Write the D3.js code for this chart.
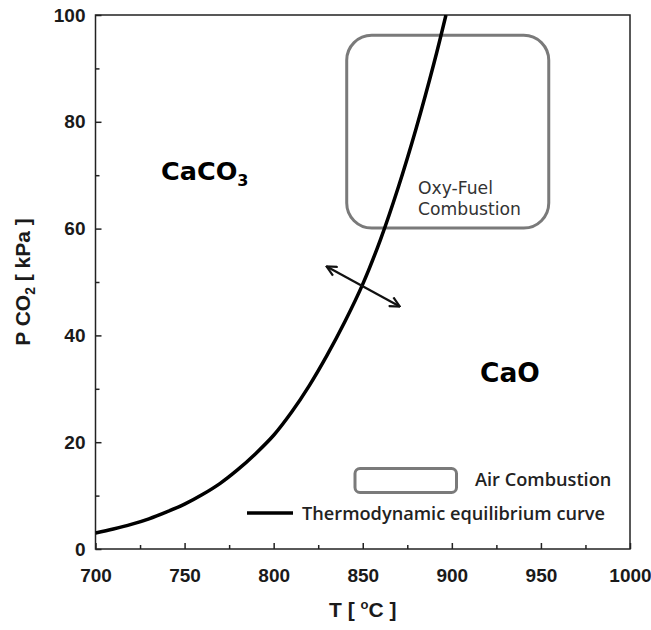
<!DOCTYPE html>
<html>
<head>
<meta charset="utf-8">
<script src="https://cdn.jsdelivr.net/npm/d3@7"></script>
<style>
  html, body { margin: 0; padding: 0; background: #fff; }
  svg { display: block; }
</style>
</head>
<body>
<svg id="chart" width="651" height="630"></svg>
<script>
// ---- data ----
const temperatures = [700, 710, 720, 730, 740, 750, 760, 770, 780, 790, 800, 810, 820, 830, 840, 850, 860, 870, 880, 890, 896.7];
const pressures    = [3.0, 3.75, 4.6, 5.65, 6.95, 8.4, 10.2, 12.3, 14.9, 17.9, 21.3, 25.6, 30.6, 36.3, 42.6, 49.6, 58.0, 67.8, 78.8, 91.0, 100];
const xMajorTicks = [700, 750, 800, 850, 900, 950, 1000];
const xMinorTicks = [725, 775, 825, 875, 925, 975];
const yMajorTicks = [0, 20, 40, 60, 80, 100];
const yMinorTicks = [10, 30, 50, 70, 90];
const regionLabels = ["CaCO", "CaO"];
const legendLabels = ["Air Combustion", "Thermodynamic equilibrium curve"];
const oxyLabel = ["Oxy-Fuel", "Combustion"];
// oxy-fuel region in data units: [T0, T1], [P0, P1]
const oxyT = [841, 954.4];
const oxyP = [60.1, 96.2];
// double arrow in data units
const arrowT = [829.7, 870.8];
const arrowP = [52.9, 45.4];

const svg = d3.select("#chart");
const x = d3.scaleLinear().domain([700, 1000]).range([95.5, 630]);
const y = d3.scaleLinear().domain([0, 100]).range([549, 15]);

const tickFont = "'Liberation Sans', Arial, sans-serif";
const annFont = "'Open Sans', 'Noto Sans', sans-serif";
const regFont = "'DejaVu Sans', Verdana, sans-serif";

const defs = svg.append("defs");
defs.append("clipPath").attr("id", "plotClip")
  .append("rect").attr("x", x(700)).attr("y", y(100))
  .attr("width", x(1000) - x(700)).attr("height", y(0) - y(100));

defs.append("marker").attr("id", "ah").attr("viewBox", "0 0 12 12")
  .attr("refX", 11).attr("refY", 6).attr("markerWidth", 12).attr("markerHeight", 12)
  .attr("markerUnits", "userSpaceOnUse").attr("orient", "auto-start-reverse")
  .append("path").attr("d", "M1,1 L11,6 L1,11").attr("fill", "none")
  .attr("stroke", "#111").attr("stroke-width", 2.2);

// axes
const gx = svg.append("g").attr("transform", `translate(0,${y(0)})`)
  .call(d3.axisBottom(x).tickValues(xMajorTicks).tickSizeInner(-6).tickSizeOuter(0).tickPadding(20).tickFormat(d3.format("d")));
const gxm = svg.append("g").attr("transform", `translate(0,${y(0)})`)
  .call(d3.axisBottom(x).tickValues(xMinorTicks).tickSizeInner(-4).tickSizeOuter(0).tickFormat(""));
const gy = svg.append("g").attr("transform", `translate(${x(700)},0)`)
  .call(d3.axisLeft(y).tickValues(yMajorTicks).tickSizeInner(-6).tickSizeOuter(0).tickPadding(10).tickFormat(d3.format("d")));
const gym = svg.append("g").attr("transform", `translate(${x(700)},0)`)
  .call(d3.axisLeft(y).tickValues(yMinorTicks).tickSizeInner(-4).tickSizeOuter(0).tickFormat(""));

[gx, gxm, gy, gym].forEach(g => {
  g.select(".domain").remove();
  g.selectAll(".tick line").attr("stroke", "#222").attr("stroke-width", 1.5);
  g.selectAll(".tick text").attr("font-family", tickFont).attr("font-weight", "bold")
    .attr("font-size", 19).attr("fill", "#1a1a1a");
});

// frame
svg.append("rect").attr("x", x(700)).attr("y", y(100))
  .attr("width", x(1000) - x(700)).attr("height", y(0) - y(100))
  .attr("fill", "none").attr("stroke", "#222").attr("stroke-width", 1.5);

// axis titles
const xt = svg.append("text").attr("x", (x(700) + x(1000)) / 2).attr("y", 617)
  .attr("text-anchor", "middle").attr("font-family", tickFont).attr("font-weight", "bold")
  .attr("font-size", 21).attr("fill", "#1a1a1a");
xt.append("tspan").text("T [ ");
xt.append("tspan").attr("font-size", 13).attr("dy", -8).text("o");
xt.append("tspan").attr("dy", 8).text("C ]");

const yt = svg.append("text")
  .attr("transform", `translate(30,${(y(0) + y(100)) / 2}) rotate(-90)`)
  .attr("text-anchor", "middle").attr("font-family", tickFont).attr("font-weight", "bold")
  .attr("font-size", 21).attr("fill", "#1a1a1a");
yt.append("tspan").text("P CO");
yt.append("tspan").attr("font-size", 14).attr("dy", 5).text("2");
yt.append("tspan").attr("dy", -5).text(" [ kPa ]");

// oxy-fuel box
svg.append("rect")
  .attr("x", x(oxyT[0])).attr("y", y(oxyP[1]))
  .attr("width", x(oxyT[1]) - x(oxyT[0])).attr("height", y(oxyP[0]) - y(oxyP[1]))
  .attr("rx", 25).attr("ry", 25)
  .attr("fill", "none").attr("stroke", "#7a7a7a").attr("stroke-width", 3);

// equilibrium curve
const line = d3.line().x((d, i) => x(temperatures[i])).y(d => y(d)).curve(d3.curveCatmullRom.alpha(0.5));
svg.append("path").datum(pressures).attr("d", line)
  .attr("clip-path", "url(#plotClip)")
  .attr("fill", "none").attr("stroke", "#000").attr("stroke-width", 3.5);

// double arrow
svg.append("line")
  .attr("x1", x(arrowT[0])).attr("y1", y(arrowP[0]))
  .attr("x2", x(arrowT[1])).attr("y2", y(arrowP[1]))
  .attr("stroke", "#111").attr("stroke-width", 2.2)
  .attr("marker-start", "url(#ah)").attr("marker-end", "url(#ah)");

// oxy-fuel label (two lines)
oxyLabel.forEach((t, i) => {
  svg.append("text").attr("x", 418).attr("y", 194 + i * 21)
    .attr("font-family", regFont).attr("font-size", 17.2).attr("fill", "#333").text(t);
});

// region labels
const cc = svg.append("text").attr("x", 161).attr("y", 180)
  .attr("font-family", regFont).attr("font-weight", "bold").attr("font-size", 25.5).attr("fill", "#000");
cc.append("tspan").text(regionLabels[0]);
cc.append("tspan").attr("font-size", 16).attr("dy", 6).text("3");
svg.append("text").attr("x", 480).attr("y", 382)
  .attr("font-family", regFont).attr("font-weight", "bold").attr("font-size", 26.5).attr("fill", "#000")
  .text(regionLabels[1]);

// legend
svg.append("rect").attr("x", 355).attr("y", 468.5).attr("width", 101.5).attr("height", 24)
  .attr("rx", 5).attr("ry", 5).attr("fill", "none").attr("stroke", "#7a7a7a").attr("stroke-width", 3);
svg.append("text").attr("x", 475).attr("y", 486)
  .attr("font-family", annFont).attr("font-weight", 600).attr("font-size", 18.2).attr("fill", "#222")
  .text(legendLabels[0]);
svg.append("line").attr("x1", 247).attr("x2", 293).attr("y1", 513).attr("y2", 513)
  .attr("stroke", "#000").attr("stroke-width", 3.5);
svg.append("text").attr("x", 302).attr("y", 520)
  .attr("font-family", annFont).attr("font-weight", 600).attr("font-size", 18.2).attr("fill", "#222")
  .text(legendLabels[1]);
</script>
</body>
</html>
